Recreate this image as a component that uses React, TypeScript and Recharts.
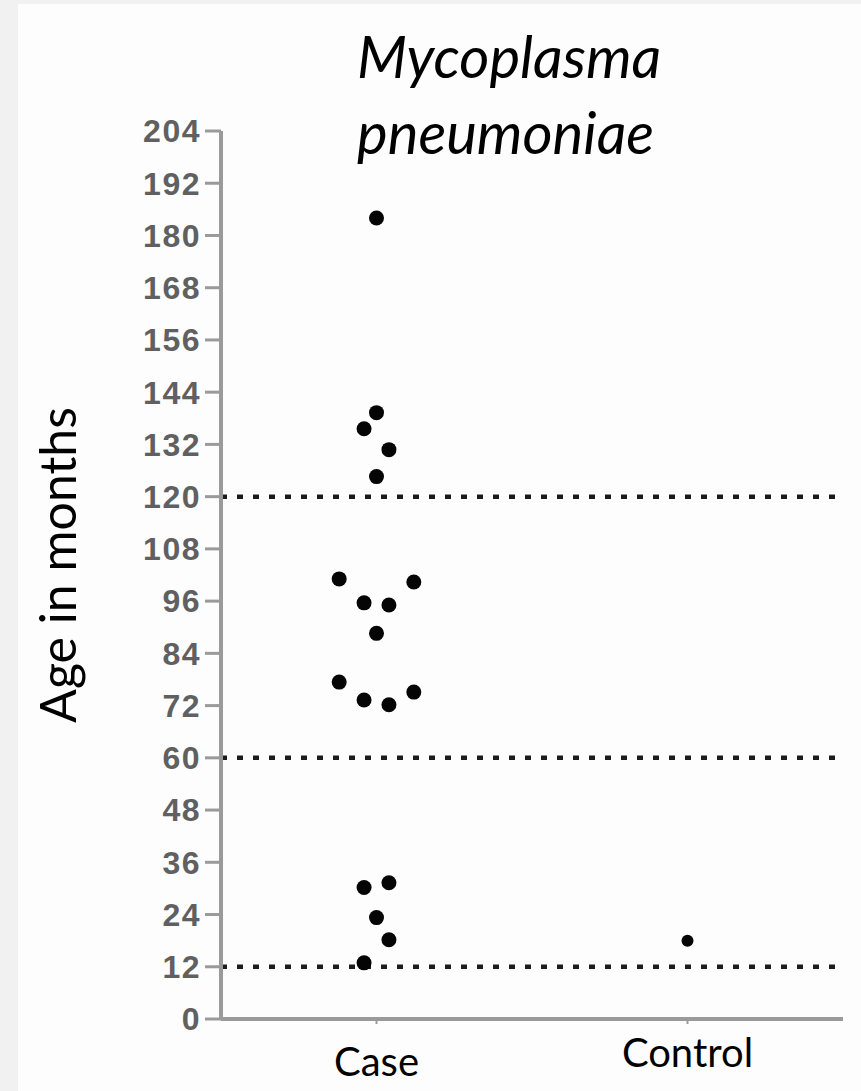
import { ReferenceLine, Scatter, ScatterChart, XAxis, YAxis } from "recharts";

const groups = ["Case", "Control"];
const groupCenters = [0.5, 1.5];

// age in months; jitter = horizontal slot within the column
const caseAges = [184, 139.3, 135.6, 130.8, 124.6, 101.1, 100.4, 95.6, 95.1, 88.6, 77.4, 73.3, 72.2, 75.1, 30.2, 31.3, 23.3, 18.2, 12.9];
const caseJitter = [0, 0, -1, 1, 0, -3, 3, -1, 1, 0, -3, -1, 1, 3, -1, 1, 0, 1, -1];
const controlAges = [18];
const controlJitter = [0];

const cutoffs = [12, 60, 120];
const yTicks = [0, 12, 24, 36, 48, 60, 72, 84, 96, 108, 120, 132, 144, 156, 168, 180, 192, 204];

const JITTER_STEP = 0.04;
const AXIS = "#9a9a9a";

const caseData = caseAges.map((age, i) => ({ x: groupCenters[0] + caseJitter[i] * JITTER_STEP, age }));
const controlData = controlAges.map((age, i) => ({ x: groupCenters[1] + controlJitter[i] * JITTER_STEP, age }));

function GroupTick({ x, y, payload }: any) {
  const i = groupCenters.indexOf(payload.value);
  return (
    <text x={x} y={y + (i === 0 ? 52 : 43)} textAnchor="middle" fontFamily="Lato" fontSize={40} fill="#000">
      {groups[i]}
    </text>
  );
}

const dot = (r: number) => (p: any) => <circle cx={p.cx} cy={p.cy} r={r} fill="#050505" />;

export default function App() {
  return (
    <div style={{ position: "absolute", left: 0, top: 0, width: 861, height: 1091, background: "#f1f1f1" }}>
      <div style={{ position: "absolute", left: 18, top: 4, width: 843, height: 1087, background: "#fdfdfd" }} />
      <div style={{ position: "absolute", left: 0, top: 0 }}>
        <ScatterChart width={861} height={1091} margin={{ top: 131, right: 18, bottom: 0, left: 161 }}>
          <XAxis
            type="number"
            dataKey="x"
            domain={[0, 2]}
            ticks={groupCenters}
            height={72}
            axisLine={{ stroke: AXIS, strokeWidth: 4 }}
            tickLine={{ stroke: AXIS, strokeWidth: 2 }}
            tickSize={5}
            tickMargin={0}
            tick={<GroupTick />}
          />
          <YAxis
            type="number"
            dataKey="age"
            domain={[0, 204]}
            ticks={yTicks}
            width={60}
            axisLine={{ stroke: AXIS, strokeWidth: 4 }}
            tickLine={{ stroke: AXIS, strokeWidth: 3 }}
            tickSize={16}
            tickMargin={4}
            tick={{ fill: "#606060", fontSize: 32, fontWeight: 700, fontFamily: "Liberation Sans", letterSpacing: 1.5 }}
          />
          {cutoffs.map((c) => (
            <ReferenceLine key={c} y={c} stroke="#1c1c1c" strokeWidth={4.5} strokeDasharray="6 10" />
          ))}
          <Scatter data={caseData} shape={dot(7.5)} isAnimationActive={false} />
          <Scatter data={controlData} shape={dot(6)} isAnimationActive={false} />
        </ScatterChart>
      </div>
      <div
        style={{
          position: "absolute",
          left: 357,
          top: 18,
          fontFamily: "Lato",
          fontStyle: "italic",
          fontSize: 58,
          lineHeight: "76px",
          color: "#000",
        }}
      >
        Mycoplasma
        <br />
        pneumoniae
      </div>
      <div
        style={{
          position: "absolute",
          left: -143,
          top: 540,
          width: 400,
          height: 50,
          lineHeight: "50px",
          textAlign: "center",
          fontFamily: "Lato",
          fontSize: 50,
          color: "#000",
          transform: "rotate(-90deg)",
          whiteSpace: "nowrap",
        }}
      >
        Age in months
      </div>
    </div>
  );
}
